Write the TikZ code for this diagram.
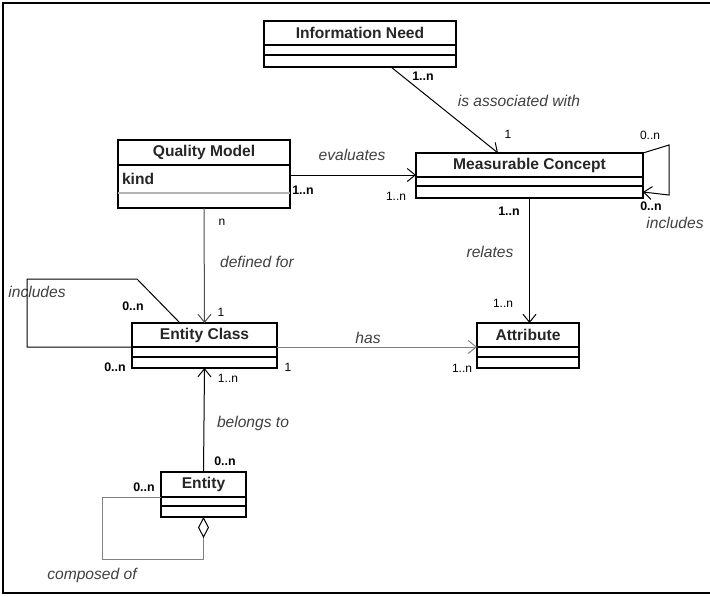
\documentclass[tikz,border=0pt]{standalone}
\usepackage{fontspec}
\setmainfont{Liberation Sans}
\usetikzlibrary{positioning,arrows.meta}

\tikzset{
	cname/.style={draw, line width=.6pt, anchor=north west, inner sep=0pt, outer sep=0pt, font=\fontsize{7.8}{9}\selectfont\bfseries, text=black!85},
	cpart/.style={draw, line width=.6pt, inner sep=0pt, outer sep=0pt, below=0pt of #1},
	assoc/.style={-{Straight Barb[length=4pt,width=6.5pt]}},
	role/.style={font=\fontsize{7.8}{9}\selectfont\itshape, text=black!75, inner sep=0pt},
	mult/.style={font=\fontsize{6}{7}\selectfont, inner sep=0pt},
	multb/.style={font=\fontsize{6.2}{7}\selectfont\bfseries, inner sep=0pt}
}

\begin{document}
\begin{tikzpicture}[x=.5pt, y=-.5pt, line width=.5pt]
		\useasboundingbox (0,0) rectangle (710,596);
		\draw[line width=1pt] (710,3) -- (3,3) -- (3,593) -- (710,593);
		%Klassen
		\node[cname, minimum width=96pt, minimum height=12pt] (need) at (264,21) {Information Need};
		\node[cpart=need, minimum width=96pt, minimum height=5pt] (need-a) {};
		\node[cpart=need-a, minimum width=96pt, minimum height=6pt] (need-b) {};
		\node[cname, minimum width=113.5pt, minimum height=12pt] (mc) at (416,153) {Measurable Concept};
		\node[cpart=mc, minimum width=113.5pt, minimum height=4.5pt] (mc-a) {};
		\node[cpart=mc-a, minimum width=113.5pt, minimum height=6pt] (mc-b) {};
		\node[cname, minimum width=86pt, minimum height=12.5pt] (qm) at (118,140) {Quality Model};
		\node[cpart=qm, minimum width=86pt, minimum height=14pt, inner xsep=2pt, text width=82pt, align=left, font=\fontsize{7.8}{9}\selectfont\bfseries, text=black!85] (qm-a) {kind};
		\node[cpart=qm-a, minimum width=86pt, minimum height=7.5pt] (qm-b) {};
		\draw[gray!60, line width=.6pt] (qm-a.south west) -- (qm-a.south east);
		\node[cname, minimum width=72.5pt, minimum height=12pt] (ec) at (132,323) {Entity Class};
		\node[cpart=ec, minimum width=72.5pt, minimum height=5pt] (ec-a) {};
		\node[cpart=ec-a, minimum width=72.5pt, minimum height=5.5pt] (ec-b) {};
		\node[cname, minimum width=51pt, minimum height=12pt] (attr) at (477,323) {Attribute};
		\node[cpart=attr, minimum width=51pt, minimum height=5pt] (attr-a) {};
		\node[cpart=attr-a, minimum width=51pt, minimum height=5.5pt] (attr-b) {};
		\node[cname, minimum width=42.5pt, minimum height=12.5pt] (ent) at (161,472) {Entity};
		\node[cpart=ent, minimum width=42.5pt, minimum height=4.5pt] (ent-a) {};
		\node[cpart=ent-a, minimum width=42.5pt, minimum height=5.5pt] (ent-b) {};
		%Beschriftungen
		\node[multb] (mNeed) at (423,76) {1..n};
		\node[role] (lAssoc) at (519,101) {is associated with};
		\node[mult] (mMcTop) at (508,134) {1};
		\node[mult] (mLoopA) at (650,135) {0..n};
		\node[multb] (mLoopB) at (651,206) {0..n};
		\node[role] (lInclMc) at (675,223) {includes};
		\node[role] (lEval) at (352,155) {evaluates};
		\node[multb] (mQm) at (303,190) {1..n};
		\node[mult] (mMcLeft) at (396,196) {1..n};
		\node[multb] (mMcBot) at (509,211) {1..n};
		\node[role] (lRel) at (490,252) {relates};
		\node[mult] (mAttrTop) at (503,303) {1..n};
		\node[mult] (mQmBot) at (222,222) {n};
		\node[role] (lDef) at (257,262) {defined for};
		\node[mult] (mEcTop) at (221,312) {1};
		\node[role] (lInclEc) at (37,292) {includes};
		\node[multb] (mEcLoop) at (133,306) {0..n};
		\node[multb] (mEcLeft) at (115,367) {0..n};
		\node[mult] (mEcRight) at (288,367) {1};
		\node[role] (lHas) at (368,338) {has};
		\node[mult] (mAttrLeft) at (462,368) {1..n};
		\node[mult] (mEcBot) at (228,378) {1..n};
		\node[role] (lBel) at (253,423) {belongs to};
		\node[multb] (mEntTop) at (225,461) {0..n};
		\node[multb] (mEntLeft) at (144,487) {0..n};
		\node[role] (lComp) at (92,575) {composed of};
		%Assoziationen
		\draw[assoc] ([xshift=15.5pt]need-b.south) -- ([xshift=-15.75pt]mc.north);
		\draw[assoc] ([yshift=2pt]qm-a.east) -- ([yshift=2pt]qm-a.east -| mc.west);
		\draw[assoc] (mc.north east) -- ++(26,-8) -- ++(0,50) -- (mc-b.east);
		\draw[assoc] (mc-b.south) -- (mc-b.south |- attr.north);
		\draw[assoc, black!70] (qm-b.south) -- (ec.north);
		\draw ([xshift=-12.25pt]ec.north) -- ++(-43,-44) -- ++(-110,0) |- (ec.south west);
		\draw[assoc, gray] (ec.south east) -- (attr.south west);
		\draw[assoc] (ent.north) -- (ec-b.south);
		\draw[{Diamond[open,length=10.5pt,width=5.5pt,color=black]}-, gray] (ent-b.south) -- ++(0,42) -- ++(-101,0) |- (ent.south west);
	\end{tikzpicture}
\end{document}
